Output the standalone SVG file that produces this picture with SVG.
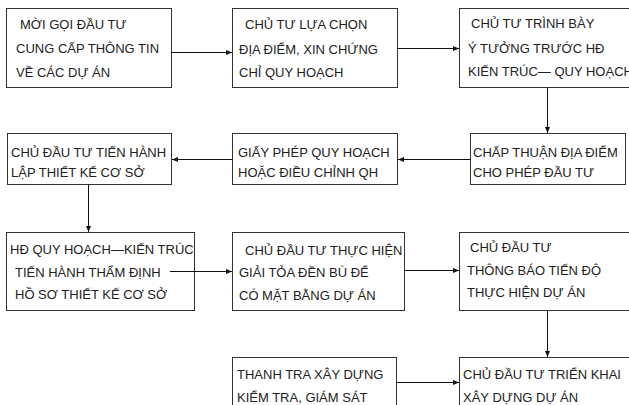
<svg xmlns="http://www.w3.org/2000/svg" width="629" height="405" viewBox="0 0 629 405">
<style>
rect{fill:#fff;stroke:#333;stroke-width:1}
text{font-family:"Liberation Sans",Arial,sans-serif;font-size:13px;fill:#222}
.c line{stroke:#111;stroke-width:1;marker-end:url(#ah)}
</style>
<defs>
<marker id="ah" markerUnits="userSpaceOnUse" markerWidth="6" markerHeight="6" refX="6" refY="3" orient="auto">
<path d="M0,0.5 L6,3 L0,5.5 z" fill="#111"/>
</marker>
</defs>
<rect x="0" y="0" width="629" height="405" style="stroke:none"/>
<g id="n1"><rect x="6.5" y="8.5" width="165" height="79"/>
<text x="20" y="29">MỜI GỌI ĐẦU TƯ</text><text x="16" y="53">CUNG CẤP THÔNG TIN</text><text x="16" y="77">VỀ CÁC DỰ ÁN</text></g>
<g id="n2"><rect x="232.5" y="8.5" width="165" height="79"/>
<text x="245" y="29">CHỦ TƯ LỰA CHỌN</text><text x="239" y="54">ĐỊA ĐIỂM, XIN CHỨNG</text><text x="239" y="77">CHỈ QUY HOẠCH</text></g>
<g id="n3"><rect x="459.5" y="8.5" width="180" height="79"/>
<text x="471" y="28">CHỦ TƯ TRÌNH BÀY</text><text x="468" y="53">Ý TƯỞNG TRƯỚC HĐ</text><text x="468" y="76">KIẾN TRÚC— QUY HOẠCH</text></g>
<g id="n4"><rect x="7.5" y="133.5" width="164" height="51"/>
<text x="11" y="157">CHỦ ĐẦU TƯ TIẾN HÀNH</text><text x="11" y="177">LẬP THIẾT KẾ CƠ SỞ</text></g>
<g id="n5"><rect x="232.5" y="133.5" width="165" height="51"/>
<text x="238" y="157">GIẤY PHÉP QUY HOẠCH</text><text x="238" y="177">HOẶC ĐIỀU CHỈNH QH</text></g>
<g id="n6"><rect x="470.5" y="133.5" width="155" height="51"/>
<text x="473" y="157">CHẤP THUẬN ĐỊA ĐIỂM</text><text x="473" y="177">CHO PHÉP ĐẦU TƯ</text></g>
<g id="n7"><rect x="6.5" y="232.5" width="188" height="78"/>
<text x="10" y="254">HĐ QUY HOẠCH—KIẾN TRÚC</text><text x="15" y="277">TIẾN HÀNH THẨM ĐỊNH</text><text x="15" y="299">HỒ SƠ THIẾT KẾ CƠ SỞ</text></g>
<g id="n8"><rect x="232.5" y="232.5" width="172" height="78"/>
<text x="245" y="255">CHỦ ĐẦU TƯ THỰC HIỆN</text><text x="239" y="277">GIẢI TỎA ĐỀN BÙ ĐỂ</text><text x="239" y="300">CÓ MẶT BẰNG DỰ ÁN</text></g>
<g id="n9"><rect x="459.5" y="232.5" width="180" height="78"/>
<text x="470" y="252">CHỦ ĐẦU TƯ</text><text x="467" y="275">THÔNG BÁO TIẾN ĐỘ</text><text x="467" y="297">THỰC HIỆN DỰ ÁN</text></g>
<g id="n10"><rect x="232.5" y="357.5" width="164" height="70"/>
<text x="237" y="379">THANH TRA XÂY DỰNG</text><text x="237" y="402">KIỂM TRA, GIÁM SÁT</text></g>
<g id="n11"><rect x="459.5" y="357.5" width="180" height="70"/>
<text x="463" y="379">CHỦ ĐẦU TƯ TRIỂN KHAI</text><text x="463" y="402">XÂY DỰNG DỰ ÁN</text></g>
<g id="connectors" class="c">
<line x1="171.5" y1="52.5" x2="232" y2="52.5"/>
<line x1="397.5" y1="48.5" x2="459" y2="48.5"/>
<line x1="547.5" y1="87.5" x2="547.5" y2="133"/>
<line x1="470" y1="159.5" x2="398" y2="159.5"/>
<line x1="232" y1="159.5" x2="172" y2="159.5"/>
<line x1="88.5" y1="184.5" x2="88.5" y2="232"/>
<line x1="170" y1="271.5" x2="232" y2="271.5"/>
<line x1="404.5" y1="270.5" x2="459" y2="270.5"/>
<line x1="547.5" y1="310.5" x2="547.5" y2="357"/>
<line x1="396.5" y1="382.5" x2="459" y2="382.5"/>
</g>
</svg>
